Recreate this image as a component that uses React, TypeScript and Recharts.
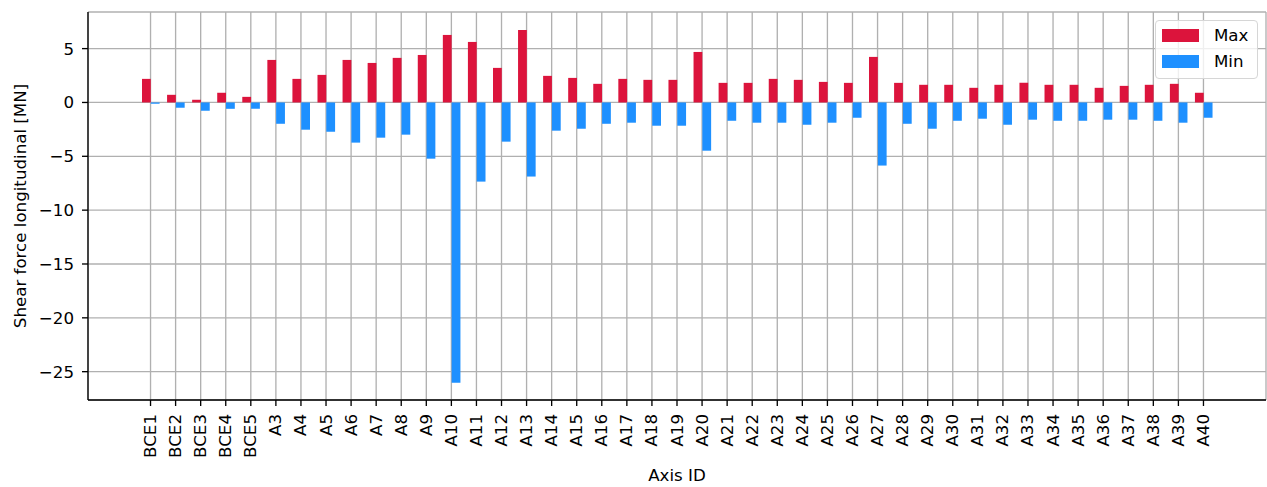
import React from 'react';
import { BarChart, Bar, XAxis, YAxis, CartesianGrid, Legend } from 'recharts';

const categories = [
  'BCE1', 'BCE2', 'BCE3', 'BCE4', 'BCE5',
  'A3', 'A4', 'A5', 'A6', 'A7', 'A8', 'A9', 'A10', 'A11', 'A12', 'A13', 'A14', 'A15', 'A16', 'A17', 'A18', 'A19', 'A20',
  'A21', 'A22', 'A23', 'A24', 'A25', 'A26', 'A27', 'A28', 'A29', 'A30', 'A31', 'A32', 'A33', 'A34', 'A35', 'A36', 'A37', 'A38', 'A39', 'A40',
];

const maxValues = [
  2.19, 0.71, 0.25, 0.9, 0.52,
  3.95, 2.19, 2.56, 3.95, 3.67, 4.14, 4.41, 6.27, 5.62, 3.21, 6.73, 2.47, 2.28, 1.73, 2.19, 2.1, 2.1, 4.69,
  1.82, 1.82, 2.19, 2.1, 1.91, 1.82, 4.23, 1.82, 1.64, 1.64, 1.36, 1.64, 1.82, 1.64, 1.64, 1.36, 1.54, 1.64, 1.73, 0.9,
];

const minValues = [
  -0.12, -0.49, -0.77, -0.59, -0.59,
  -1.98, -2.53, -2.72, -3.73, -3.27, -2.99, -5.22, -26.02, -7.35, -3.64, -6.88, -2.62, -2.44, -1.98, -1.88, -2.16, -2.16, -4.48,
  -1.7, -1.88, -1.88, -2.07, -1.88, -1.42, -5.86, -1.98, -2.44, -1.7, -1.51, -2.07, -1.6, -1.7, -1.7, -1.6, -1.6, -1.7, -1.88, -1.42,
];

const yTicks = [-25, -20, -15, -10, -5, 0, 5];

const data = categories.map((name, i) => ({ name, Max: maxValues[i], Min: minValues[i] }));

const FONT = '"DejaVu Sans", sans-serif';
const FS = 16.67;
const LW = 1.33;

const fmt = (v: number) => (v < 0 ? '\u2212' + Math.abs(v) : String(v));

const XTick = (props: any) => {
  const { x, y, payload } = props;
  return (
    <text
      x={x}
      y={y}
      transform={`rotate(-90, ${x}, ${y})`}
      textAnchor="end"
      dominantBaseline="central"
      fontFamily={FONT}
      fontSize={FS}
      fill="#000"
    >
      {payload.value}
    </text>
  );
};

const renderLegend = () => (
  <div
    style={{
      width: 101,
      height: 57,
      border: '1px solid #d6d6d6',
      borderRadius: 4,
      background: 'rgba(255,255,255,0.8)',
      fontFamily: FONT,
      fontSize: FS,
      position: 'relative',
      boxSizing: 'content-box',
    }}
  >
    {[
      { label: 'Max', color: '#DC143C', top: 8 },
      { label: 'Min', color: '#1E90FF', top: 34 },
    ].map((it) => (
      <div key={it.label} style={{ position: 'absolute', left: 6, top: it.top, height: 13, display: 'flex', alignItems: 'center' }}>
        <div style={{ width: 37, height: 13, background: it.color, flexShrink: 0 }} />
        <span style={{ marginLeft: 15, lineHeight: '13px', color: '#000' }}>{it.label}</span>
      </div>
    ))}
  </div>
);

export default function App() {
  return (
    <div style={{ position: 'absolute', left: 0, top: 0, width: 1267, height: 487, background: '#fff' }}>
      <BarChart
        width={1267}
        height={487}
        data={data}
        margin={{ top: 12, right: 1, bottom: 0, left: 0 }}
        barGap={0}
        barSize={8.8}
      >
        <XAxis
          dataKey="name"
          interval={0}
          height={87}
          padding={{ left: 50, right: 50 }}
          tickSize={6}
          tickMargin={8}
          tick={<XTick />}
          tickLine={{ stroke: '#000', strokeWidth: LW }}
          axisLine={{ stroke: '#000', strokeWidth: LW }}
          label={{ value: 'Axis ID', position: 'insideBottom', offset: 6, fill: '#000', fontFamily: FONT, fontSize: FS }}
        />
        <XAxis
          xAxisId="top"
          dataKey="name"
          orientation="top"
          height={0}
          padding={{ left: 50, right: 50 }}
          tick={false}
          tickLine={false}
          axisLine={{ stroke: '#000', strokeWidth: LW }}
        />
        <YAxis
          type="number"
          domain={[-27.63, 8.4]}
          ticks={yTicks}
          allowDataOverflow
          width={88}
          tickSize={6}
          tickMargin={8}
          tickFormatter={fmt}
          tick={{ fill: '#000', fontFamily: FONT, fontSize: FS }}
          tickLine={{ stroke: '#000', strokeWidth: LW }}
          axisLine={{ stroke: '#000', strokeWidth: LW }}
          label={{
            value: 'Shear force longitudinal [MN]',
            angle: -90,
            position: 'insideLeft',
            offset: 20,
            fill: '#000',
            fontFamily: FONT,
            fontSize: FS,
            style: { textAnchor: 'middle' },
          }}
        />
        <YAxis
          yAxisId="right"
          orientation="right"
          type="number"
          domain={[-27.63, 8.4]}
          width={0}
          tick={false}
          tickLine={false}
          axisLine={{ stroke: '#000', strokeWidth: LW }}
        />
        <Bar dataKey="Max" fill="#DC143C" isAnimationActive={false} />
        <Bar dataKey="Min" fill="#1E90FF" isAnimationActive={false} />
        <CartesianGrid stroke="#b0b0b0" strokeWidth={LW} />
        <Legend
          layout="vertical"
          align="center"
          verticalAlign="middle"
          content={renderLegend}
          wrapperStyle={{ left: 1155, top: 20, width: 103, height: 59 }}
        />
      </BarChart>
    </div>
  );
}
